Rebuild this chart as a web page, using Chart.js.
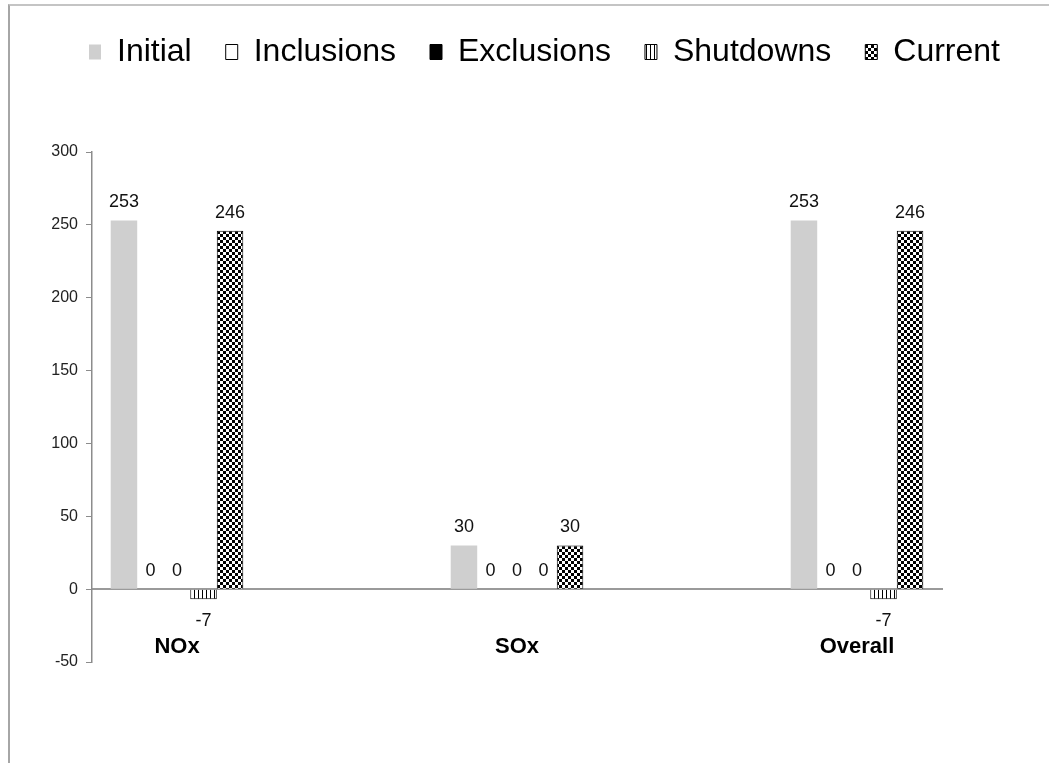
<!DOCTYPE html>
<html>
<head>
<meta charset="utf-8">
<script src="https://cdn.jsdelivr.net/npm/chart.js@4.4.1/dist/chart.umd.min.js"></script>
<style>
  html, body { margin: 0; padding: 0; background: #fff; }
  #frame { position: absolute; left: 8px; top: 4px; width: 1041px; height: 759px;
           border-left: 2px solid #a6a6a6; border-top: 2px solid #c4c4c4; }
  #chart { position: absolute; left: 10px; top: 0; display: block; }
</style>
</head>
<body>
<div id="frame"></div>
<canvas id="chart" width="1039" height="763"></canvas>
<script>
// data
const categories = ['NOx', 'SOx', 'Overall'];
const initialValues = [253, 30, 253];
const inclusionValues = [0, 0, 0];
const exclusionValues = [0, 0, 0];
const shutdownValues = [-7, 0, -7];
const currentValues = [246, 30, 246];
const yTicks = [-50, 0, 50, 100, 150, 200, 250, 300];

Chart.defaults.font.family = '"Liberation Sans", Arial, sans-serif';

function stripePattern() {
  const c = document.createElement('canvas');
  c.width = 4; c.height = 4;
  const g = c.getContext('2d');
  g.fillStyle = '#fff'; g.fillRect(0, 0, 4, 4);
  g.fillStyle = '#000'; g.fillRect(0, 0, 1, 4);
  return g.createPattern(c, 'repeat');
}

function checkerPattern() {
  const c = document.createElement('canvas');
  c.width = 6; c.height = 6;
  const g = c.getContext('2d');
  g.fillStyle = '#fff'; g.fillRect(0, 0, 6, 6);
  g.fillStyle = '#000';
  g.fillRect(0, 0, 3, 3);
  g.fillRect(3, 3, 3, 3);
  return g.createPattern(c, 'repeat');
}

const toPoints = vals => vals.map((v, i) => ({ x: i, y: v }));

// numbers above / below each bar
const valueLabels = {
  id: 'valueLabels',
  afterDatasetsDraw(chart) {
    const ctx = chart.ctx;
    ctx.save();
    ctx.font = '18px "Liberation Sans", Arial, sans-serif';
    ctx.fillStyle = '#111';
    ctx.textAlign = 'center';
    ctx.textBaseline = 'alphabetic';
    chart.data.datasets.forEach((ds, di) => {
      chart.getDatasetMeta(di).data.forEach((bar, i) => {
        const v = ds.data[i].y;
        if (v < 0) ctx.fillText(String(v), bar.x, bar.y + 27);
        else ctx.fillText(String(v), bar.x, bar.y - 13);
      });
    });
    ctx.restore();
  }
};

// legend on one line, high up, with a big gap under it
const legendSpace = {
  id: 'legendSpace',
  afterInit(chart) {
    const fit = chart.legend.fit;
    chart.legend.fit = function () {
      this.maxWidth = this.chart.width + 200;
      fit.call(this);
      this.height = 150;
    };
  },
  afterLayout(chart) {
    chart.legend.left = 30;
    chart.legend.right = chart.width;
  }
};

new Chart(document.getElementById('chart'), {
  type: 'bar',
  data: {
    datasets: [
      { label: 'Initial', data: toPoints(initialValues), backgroundColor: '#cfcfcf', borderWidth: 0 },
      { label: 'Inclusions', data: toPoints(inclusionValues), backgroundColor: '#fff', borderColor: '#000', borderWidth: 1 },
      { label: 'Exclusions', data: toPoints(exclusionValues), backgroundColor: '#000', borderColor: '#000', borderWidth: 1 },
      { label: 'Shutdowns', data: toPoints(shutdownValues), backgroundColor: stripePattern(), borderColor: '#000', borderWidth: 1 },
      { label: 'Current', data: toPoints(currentValues), backgroundColor: checkerPattern(), borderColor: '#000', borderWidth: 1 }
    ]
  },
  options: {
    responsive: false,
    animation: false,
    categoryPercentage: 0.39,
    barPercentage: 1,
    layout: { padding: { top: 2, right: 107, bottom: 101, left: 0 } },
    plugins: {
      legend: {
        position: 'top',
        labels: {
          color: '#000',
          font: { size: 32 },
          boxWidth: 12,
          boxHeight: 15,
          padding: 34
        }
      },
      tooltip: { enabled: false }
    },
    scales: {
      x: {
        type: 'linear',
        position: { y: 0 },
        min: -0.25,
        max: 2.25,
        offset: false,
        afterBuildTicks: s => { s.ticks = categories.map((c, i) => ({ value: i })); },
        ticks: {
          callback: v => categories[v],
          color: '#000',
          font: { size: 22, weight: 'bold' },
          padding: 45,
          maxRotation: 0
        },
        grid: { offset: false, drawOnChartArea: false, drawTicks: false },
        border: { color: '#9a9a9a', width: 2 }
      },
      y: {
        min: -50,
        max: 300,
        afterBuildTicks: s => { s.ticks = yTicks.map(v => ({ value: v })); },
        afterFit: s => { s.width = 82; },
        ticks: { color: '#222', font: { size: 16 }, padding: 8 },
        grid: { drawOnChartArea: false, drawTicks: true, tickLength: 6, color: '#8c8c8c' },
        border: { color: '#8c8c8c', width: 1.5 }
      }
    }
  },
  plugins: [valueLabels, legendSpace]
});
</script>
</body>
</html>
